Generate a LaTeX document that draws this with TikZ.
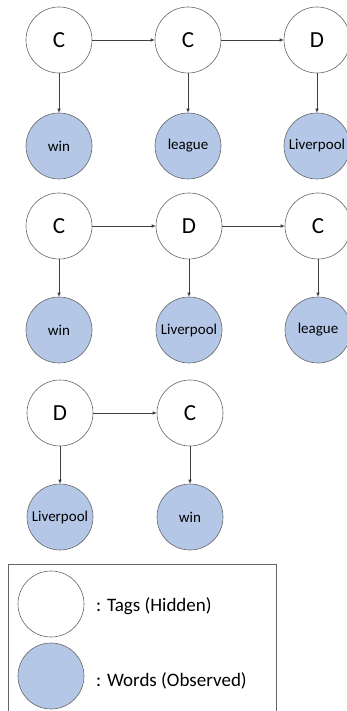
\documentclass[tikz,border=0pt]{standalone}
\usepackage{fontspec}
\setmainfont{Carlito}
\usetikzlibrary{arrows.meta}
\definecolor{wordblue}{RGB}{180,199,231}
\begin{document}
\begin{tikzpicture}[x=1pt,y=-1pt,
  tag/.style={circle,draw=black!60,line width=.6pt,fill=white,minimum size=66pt,inner sep=0pt,font=\fontsize{23}{23}\selectfont},
  word/.style={tag,fill=wordblue,font=\fontsize{15}{15}\selectfont},
  arr/.style={-{Latex[length=4pt,width=3.5pt]},line width=.6pt,draw=black!75},
  keytext/.style={anchor=west,inner sep=0pt,font=\fontsize{19}{19}\selectfont}]
\useasboundingbox (0,0) rectangle (347,711);

\node[tag] (h11) at (59,40) {C};
\node[tag] (h12) at (188,40) {C};
\node[tag] (h13) at (317,40) {D};
\node[word] (o11) at (59,146) {win};
\node[word] (o12) at (188,146) {league};
\node[word] (o13) at (317,146) {Liverpool};

\node[tag] (h21) at (59,226) {C};
\node[tag] (h22) at (189,226) {D};
\node[tag] (h23) at (318,226) {C};
\node[word] (o21) at (59,330) {win};
\node[word] (o22) at (189,330) {Liverpool};
\node[word] (o23) at (318,330) {league};

\node[tag] (h31) at (60,413) {D};
\node[tag] (h32) at (190,413) {C};
\node[word] (o31) at (60,517) {Liverpool};
\node[word] (o32) at (190,517) {win};

\draw[arr] (h11) -- (h12);
\draw[arr] (h12) -- (h13);
\draw[arr] (h21) -- (h22);
\draw[arr] (h22) -- (h23);
\draw[arr] (h31) -- (h32);
\draw[arr] (h11) -- (o11);
\draw[arr] (h12) -- (o12);
\draw[arr] (h13) -- (o13);
\draw[arr] (h21) -- (o21);
\draw[arr] (h22) -- (o22);
\draw[arr] (h23) -- (o23);
\draw[arr] (h31) -- (o31);
\draw[arr] (h32) -- (o32);

\draw[black!60,line width=.6pt] (8,712) -- (8,564) -- (276,564) -- (276,712);
\node[tag] (keytag) at (51,604) {};
\node[word] (keyword) at (51,676) {};
\node[keytext] (keytagtext) at (96,606) {: Tags (Hidden)};
\node[keytext] (keywordtext) at (96,681) {: Words (Observed)};
\end{tikzpicture}
\end{document}
